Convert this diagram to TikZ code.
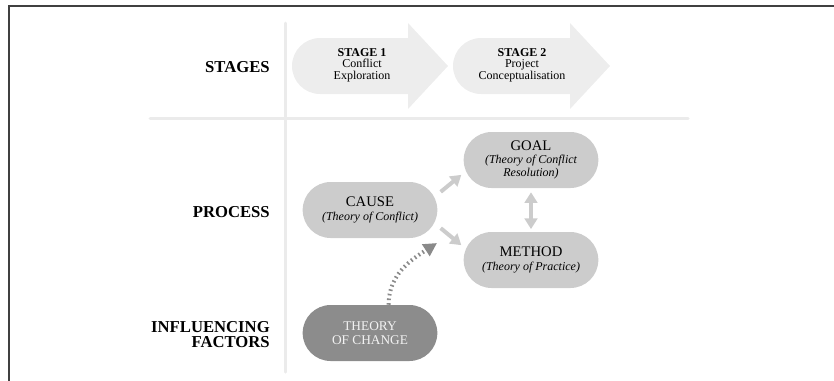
\documentclass[tikz,border=0pt]{standalone}
\usepackage{fontspec}
\setmainfont{Liberation Serif}
\usetikzlibrary{arrows.meta}

\definecolor{framegray}{HTML}{404040}
\definecolor{rulegray}{HTML}{EBEBEB}
\definecolor{stagegray}{HTML}{EDEDED}
\definecolor{procgray}{HTML}{CCCCCC}
\definecolor{changegray}{HTML}{8C8C8C}
\definecolor{dotgray}{HTML}{8A8A8A}

\newcommand{\subline}[1]{{\fontsize{9}{10}\selectfont\itshape #1}}

\begin{document}
\begin{tikzpicture}[x=0.75pt, y=-0.75pt,
	rowlabel/.style={anchor=east, align=right, inner sep=0pt, font=\fontsize{12.5}{11.25}\selectfont\bfseries},
	stagetext/.style={align=center, inner sep=0pt, font=\fontsize{9}{8.5}\selectfont},
	procbox/.style={rectangle, rounded corners=21pt, fill=procgray, minimum width=101pt, minimum height=42pt, inner sep=0pt, align=center, font=\fontsize{11}{10}\selectfont},
	changebox/.style={procbox, fill=changegray, text=white!95!black, font=\fontsize{10}{10.5}\selectfont},
	flow/.style={draw=procgray, line width=3pt, -{Triangle[length=8pt, width=9.5pt]}, shorten <=3pt, shorten >=2pt},
	twoway/.style={flow, {Triangle[length=8pt, width=9.5pt]}-{Triangle[length=8pt, width=9.5pt]}},
	influence/.style={draw=dotgray, line width=3pt, dash pattern=on 1.2pt off 2.3pt, -{Triangle[length=10pt, width=10pt]}}
	]
	\useasboundingbox (0,0) rectangle (834,380);
	\draw[framegray, line width=1.5pt] (9,381) -- (9,6) -- (835,6);
	\draw[rulegray, line width=2.25pt, line cap=round] (285,23) -- (285,372);
	\draw[rulegray, line width=2.25pt, line cap=round] (150,118) -- (688,118);

	\fill[stagegray] (320,94) arc[start angle=270, end angle=90, radius=21pt] -- (408,38) -- (408,23) -- (448,66) -- (408,109) -- (408,94) -- cycle;
	\fill[stagegray] (481,94) arc[start angle=270, end angle=90, radius=21pt] -- (570,38) -- (570,23) -- (610,66) -- (570,109) -- (570,94) -- cycle;
	\node[stagetext] (stage1) at (362,65) {\textbf{STAGE 1}\\Conflict\\Exploration};
	\node[stagetext] (stage2) at (522,65) {\textbf{STAGE 2}\\Project\\Conceptualisation};

	\node[rowlabel] (stages) at (270,67) {STAGES};
	\node[rowlabel] (process) at (270,212) {PROCESS};
	\node[rowlabel] (factors) at (270,335) {INFLUENCING\\FACTORS};

	\node[procbox] (cause) at (370,210) {CAUSE\\\subline{(Theory of Conflict)}};
	\node[procbox] (goal) at (531,160) {GOAL\\\subline{(Theory of Conflict}\\\subline{Resolution)}};
	\node[procbox] (method) at (531,260) {METHOD\\\subline{(Theory of Practice)}};
	\node[changebox] (toc) at (370,333) {THEORY\\OF CHANGE};

	\draw[flow] (cause.13) -- (goal.191);
	\draw[flow] (cause.347) -- (method.169);
	\draw[twoway] (goal.south) -- (method.north);
	\coordinate (infl) at (437,243);
	\draw[influence] ([xshift=14pt]toc.north) to[out=90, in=213] (infl);
\end{tikzpicture}
\end{document}
